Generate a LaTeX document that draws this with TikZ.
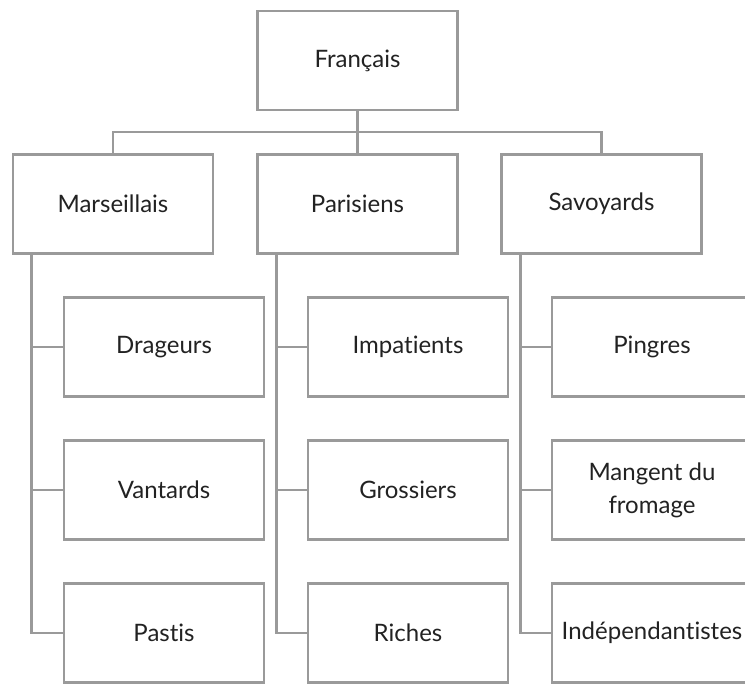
\documentclass[tikz,border=0pt]{standalone}
\usepackage{fontspec}
\setmainfont{Lato}[Ligatures={NoCommon,NoContextual}]
\definecolor{linegray}{HTML}{9A9A9A}
\definecolor{txt}{HTML}{222222}
\begin{document}
\begin{tikzpicture}[x=1pt,y=-1pt,
  box/.style={draw=linegray,line width=2.6pt,rectangle,minimum width=200pt,minimum height=99pt,
    inner sep=0pt,align=center,font=\fontsize{24}{33}\selectfont,text=txt},
  conn/.style={draw=linegray,line width=2.6pt}]
\useasboundingbox (0,0) rectangle (745,684);
\clip (0,0) rectangle (745,684);
\node[box] (F) at (357.5,60.5) {Français};
\node[box] (M) at (113,204) {Marseillais};
\node[box] (P) at (357.5,204) {Parisiens};
\node[box] (S) at (601.5,204) {Savoyards};
\node[box] (m1) at (164,347) {Drageurs};
\node[box] (m2) at (164,490) {Vantards};
\node[box] (m3) at (164,633) {Pastis};
\node[box] (p1) at (408,347) {Impatients};
\node[box] (p2) at (408,490) {Grossiers};
\node[box] (p3) at (408,633) {Riches};
\node[box] (s1) at (652,347) {Pingres};
\node[box] (s2) at (652,490) {Mangent du\\fromage};
\node[box] (s3) at (652,633) {Indépendantistes};
\draw[conn] (F.south) -- (P.north);
\draw[conn] (M.north) -- ++(0,-21) -| (S.north);
\foreach \p/\c in {M/m,P/p,S/s}{
  \foreach \i in {1,2,3}{
    \draw[conn] ([xshift=20pt]\p.south west) |- (\c\i.west);
  }
}
\end{tikzpicture}
\end{document}
